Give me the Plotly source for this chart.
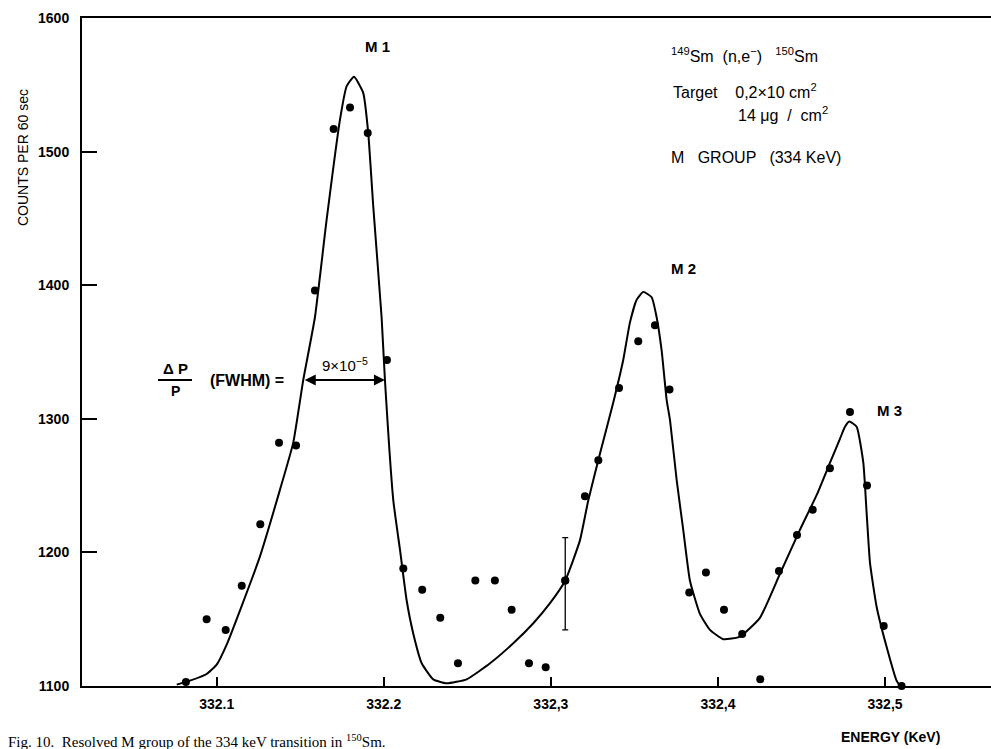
import plotly.graph_objects as go

# ---- data ----
energy_pts = [332.0816, 332.0940, 332.1054, 332.1150, 332.1261, 332.1373, 332.1475, 332.1588,
              332.1700, 332.1798, 332.1904, 332.2019, 332.2117, 332.2230, 332.2338, 332.2444,
              332.2548, 332.2665, 332.2765, 332.2869, 332.2969, 332.3086, 332.3204, 332.3284,
              332.3408, 332.3523, 332.3623, 332.3710, 332.3828, 332.3928, 332.4036, 332.4145,
              332.4253, 332.4365, 332.4473, 332.4567, 332.4670, 332.4790, 332.4892, 332.4992,
              332.5099]
counts_pts = [1103, 1150, 1142, 1175, 1221, 1282, 1280, 1396,
              1517, 1533, 1514, 1344, 1188, 1172, 1151, 1117,
              1179, 1179, 1157, 1117, 1114, 1179, 1242, 1269,
              1323, 1358, 1370, 1322, 1170, 1185, 1157, 1139,
              1105, 1186, 1213, 1232, 1263, 1305, 1250, 1145,
              1100]

# point carrying the error bar
err_index = 21
err_plus = 32
err_minus = 37

fit_energy = [332.0761, 332.0840, 332.0940, 332.1000, 332.1060, 332.1150, 332.1259, 332.1379,
              332.1458, 332.1518, 332.1588, 332.1658, 332.1738, 332.1778, 332.1822, 332.1877,
              332.1907, 332.1937, 332.1987, 332.2007, 332.2057, 332.2097, 332.2137, 332.2177,
              332.2227, 332.2296, 332.2376, 332.2496, 332.2636, 332.2775, 332.2895, 332.2995,
              332.3086, 332.3174, 332.3224, 332.3294, 332.3373, 332.3433, 332.3473, 332.3513,
              332.3553, 332.3603, 332.3633, 332.3663, 332.3693, 332.3713, 332.3753, 332.3792,
              332.3832, 332.3892, 332.3952, 332.4032, 332.4132, 332.4251, 332.4371, 332.4491,
              332.4591, 332.4670, 332.4730, 332.4760, 332.4786, 332.4830, 332.4870, 332.4890,
              332.4910, 332.4950, 332.5010, 332.5069, 332.5089]
fit_counts = [1101, 1104, 1109, 1116, 1131, 1160, 1197, 1247,
              1282, 1329, 1376, 1449, 1524, 1549, 1556, 1544,
              1514, 1459, 1376, 1329, 1239, 1202, 1164, 1139,
              1117, 1105, 1102, 1105, 1117, 1132, 1147, 1162,
              1179, 1209, 1239, 1274, 1312, 1344, 1372, 1389,
              1395, 1391, 1376, 1351, 1314, 1299, 1254, 1217,
              1179, 1154, 1142, 1135, 1137, 1151, 1184, 1217,
              1243, 1267, 1285, 1294, 1298, 1294, 1267, 1229,
              1192, 1159, 1129, 1104, 1100]

x_tickvals = [332.1, 332.2, 332.3, 332.4, 332.5]
x_ticktext = ["332.1", "332.2", "332,3", "332,4", "332,5"]
y_tickvals = [1100, 1200, 1300, 1400, 1500, 1600]

fwhm_left = 332.1518
fwhm_right = 332.2007
fwhm_level = 1329

W, H = 991, 749
ML, MR, MT, MB = 82, 0, 18, 63
PW, PH = W - ML - MR, H - MT - MB


def px(x):
    return (x - ML) / PW


def py(y):
    return (H - MB - y) / PH


fig = go.Figure()

fig.add_trace(go.Scatter(x=fit_energy, y=fit_counts, mode="lines",
                         line=dict(color="black", width=2, shape="spline", smoothing=0.45),
                         hoverinfo="skip", showlegend=False))
fig.add_trace(go.Scatter(x=energy_pts, y=counts_pts, mode="markers",
                         marker=dict(color="black", size=8),
                         showlegend=False, cliponaxis=False))
fig.add_trace(go.Scatter(x=[energy_pts[err_index]], y=[counts_pts[err_index]], mode="markers",
                         marker=dict(color="black", size=8),
                         error_y=dict(type="data", symmetric=False, array=[err_plus],
                                      arrayminus=[err_minus], color="black", thickness=1.3, width=3),
                         showlegend=False))

font_main = "Liberation Sans"
ann = []


def text(x, y, s, size=14, xanchor="center", yanchor="middle", family=font_main, color="black", **kw):
    ann.append(dict(x=px(x), y=py(y), xref="paper", yref="paper", text=s, showarrow=False,
                    xanchor=xanchor, yanchor=yanchor,
                    font=dict(family=family, size=size, color=color), **kw))


# peak labels
text(377, 47, "<b>M 1</b>", size=15)
text(683, 268, "<b>M 2</b>", size=15)
text(889, 410, "<b>M 3</b>", size=15)

# header text
text(669, 55, "<sup>149</sup>Sm  (n,e<sup>−</sup>)   <sup>150</sup>Sm", size=16, xanchor="left")
text(671, 91, "Target    0,2×10 cm<sup>2</sup>", size=16, xanchor="left")
text(736, 114, "14 μg  /  cm<sup>2</sup>", size=16, xanchor="left")
text(669, 157, "M   GROUP   (334 KeV)", size=16, xanchor="left")

# FWHM annotation
text(175, 368, "<b>Δ P</b>", size=15)
text(175, 391, "<b>P</b>", size=14)
text(247, 380, "<b>(FWHM) =</b>", size=16)
text(345, 364, "9×10<sup>−5</sup>", size=15)

# axis titles and caption
text(23, 158, "COUNTS PER 60 sec", size=14, textangle=-90)
text(890, 737, "<b>ENERGY (KeV)</b>", size=14)
text(6, 730, "Fig. 10.  Resolved M group of the 334 keV transition in <sup>150</sup>Sm.",
     size=15, xanchor="left", yanchor="top", family="Liberation Serif")

# double arrow for FWHM
ann.append(dict(x=fwhm_right, y=fwhm_level, ax=fwhm_left, ay=fwhm_level,
                xref="x", yref="y", axref="x", ayref="y", text="", showarrow=True,
                arrowhead=2, arrowside="end+start", arrowsize=1.1, arrowwidth=2, arrowcolor="black"))

shapes = [dict(type="line", xref="paper", yref="paper", x0=px(158), x1=px(192),
               y0=py(380), y1=py(380), line=dict(color="black", width=2))]

fig.update_layout(
    width=W, height=H,
    margin=dict(l=ML, r=MR, t=MT, b=MB),
    paper_bgcolor="white", plot_bgcolor="white",
    annotations=ann, shapes=shapes,
    xaxis=dict(range=[332.0194, 332.5634], tickvals=x_tickvals, ticktext=x_ticktext,
               ticks="inside", ticklen=9, tickwidth=1.5, tickcolor="black",
               showline=True, linecolor="black", linewidth=2, mirror=True,
               showgrid=False, zeroline=False, ticklabelstandoff=4,
               tickfont=dict(family=font_main, size=14, color="black", weight="bold")),
    yaxis=dict(range=[1100, 1600], tickvals=y_tickvals,
               ticks="inside", ticklen=15, tickwidth=1.5, tickcolor="black",
               showline=True, linecolor="black", linewidth=2,
               showgrid=False, zeroline=False, ticklabelstandoff=8,
               tickfont=dict(family=font_main, size=14, color="black", weight="bold")),
)

fig.write_html("out.html")
